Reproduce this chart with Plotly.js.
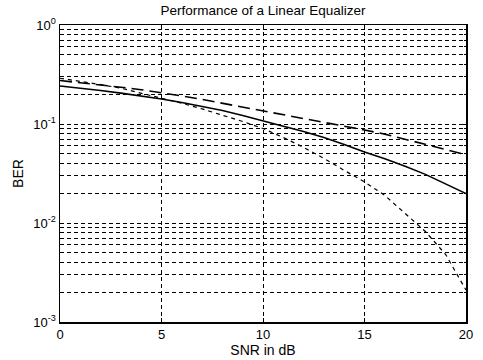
<!DOCTYPE html>
<html>
<head>
<meta charset="utf-8">
<script src="https://cdn.plot.ly/plotly-3.0.1.min.js"></script>
<style>html,body{margin:0;padding:0;background:#fff;}#chart{width:483px;height:360px;}</style>
</head>
<body>
<div id="chart"></div>
<script>
var snr = [0,1,2,3,4,5,6,7,8,9,10,11,12,13,14,15,16,17,18,19,20];
var berSolid = [0.242,0.231,0.218,0.205,0.192,0.179,0.165,0.151,0.137,0.122,0.107,0.095,0.084,0.073,0.062,0.052,0.0445,0.0375,0.031,0.025,0.0198];
var berDashed = [0.275,0.262,0.25,0.235,0.222,0.208,0.192,0.177,0.162,0.15,0.137,0.126,0.115,0.105,0.096,0.087,0.079,0.07,0.062,0.055,0.049];
var berDotted = [0.29,0.27,0.25,0.23,0.205,0.183,0.162,0.142,0.123,0.106,0.09,0.073,0.058,0.045,0.034,0.026,0.019,0.0125,0.0082,0.0048,0.0021];
var xTicks = [0,5,10,15,20];
var yDecades = [0.001,0.01,0.1,1];
var yDecadeLabels = ['10<sup>-3</sup>','10<sup>-2</sup>','10<sup>-1</sup>','10<sup>0</sup>'];

var yMinor = [];
for (var d = 0; d < yDecades.length - 1; d++) {
  for (var m = 2; m <= 9; m++) yMinor.push(yDecades[d] * m);
}

var traces = [
  {x: snr, y: berSolid, mode: 'lines', line: {color: '#000', width: 1.6, dash: 'solid'}},
  {x: snr, y: berDashed, mode: 'lines', line: {color: '#000', width: 1.6, dash: '12px,6px'}},
  {x: snr, y: berDotted, mode: 'lines', line: {color: '#000', width: 1.2, dash: '4px,4px'}}
];

var gridStyle = {gridcolor: '#000', gridwidth: 1, griddash: '4px,3px'};

var layout = {
  width: 483, height: 360,
  margin: {l: 60, r: 17, t: 25, b: 38},
  paper_bgcolor: '#fff', plot_bgcolor: '#fff',
  showlegend: false,
  font: {family: 'Liberation Sans, Arial, sans-serif', color: '#000', size: 13},
  title: {text: 'Performance of a Linear Equalizer', font: {size: 13.5}, x: 0.5, xref: 'paper', xanchor: 'center', y: 0.985, yanchor: 'top'},
  xaxis: Object.assign({
    range: [0, 20], tickmode: 'array', tickvals: xTicks, ticktext: xTicks.map(String),
    showgrid: true,
    showline: true, linecolor: '#000', linewidth: 1.5, mirror: 'ticks',
    ticks: 'inside', ticklen: 4, tickcolor: '#000', zeroline: false,
    tickfont: {size: 13},
    title: {text: 'SNR in dB', font: {size: 14}, standoff: 2}
  }, gridStyle),
  yaxis: Object.assign({
    type: 'log', range: [-3, 0], tickmode: 'array', tickvals: yDecades, ticktext: yDecadeLabels,
    showgrid: true,
    showline: true, linecolor: '#000', linewidth: 1.5, mirror: 'ticks',
    ticks: 'inside', ticklen: 4, tickcolor: '#000', zeroline: false,
    tickfont: {size: 13},
    minor: {tickmode: 'array', tickvals: yMinor, showgrid: true, gridcolor: '#000', gridwidth: 1, griddash: '4px,3px', ticks: 'inside', ticklen: 2, tickcolor: '#000'},
    title: {text: 'BER', font: {size: 14}, standoff: 6}
  }, gridStyle)
};

Plotly.newPlot('chart', traces, layout, {staticPlot: true, displayModeBar: false});
</script>
</body>
</html>
